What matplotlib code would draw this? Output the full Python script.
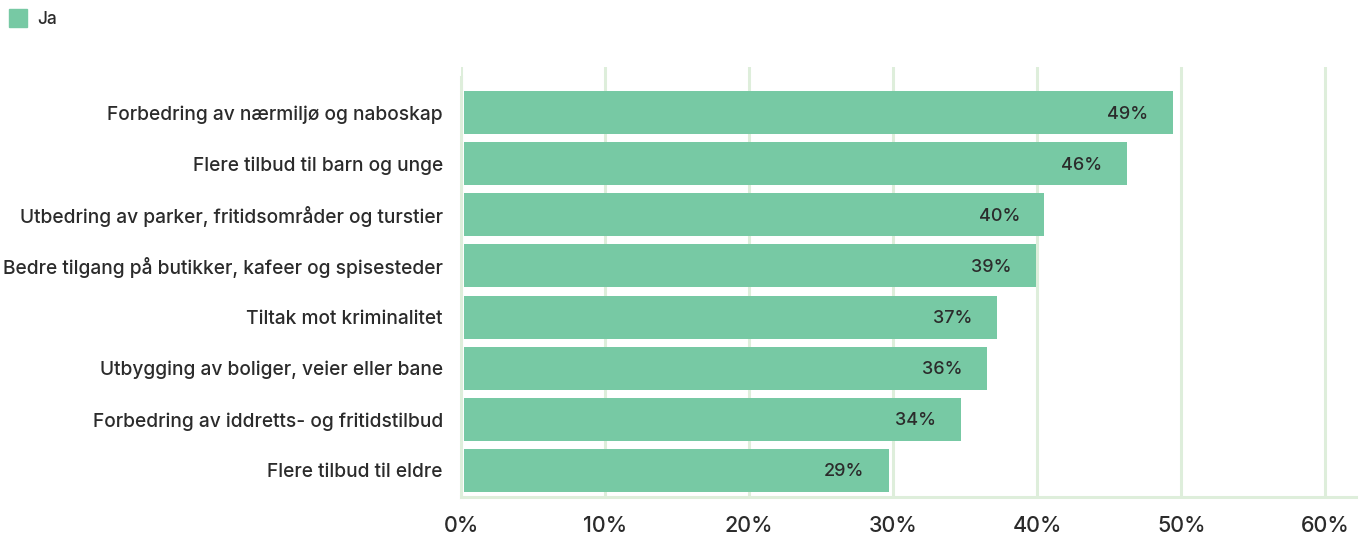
import numpy as np
import matplotlib
matplotlib.use("Agg")
from matplotlib import pyplot as plt
from matplotlib.patches import Rectangle

categories = [
    "Forbedring av nærmiljø og naboskap",
    "Flere tilbud til barn og unge",
    "Utbedring av parker, fritidsområder og turstier",
    "Bedre tilgang på butikker, kafeer og spisesteder",
    "Tiltak mot kriminalitet",
    "Utbygging av boliger, veier eller bane",
    "Forbedring av iddretts- og fritidstilbud",
    "Flere tilbud til eldre",
]
values = [49.2, 46.0, 40.3, 39.7, 37.0, 36.3, 34.5, 29.5]
value_labels = ["49%", "46%", "40%", "39%", "37%", "36%", "34%", "29%"]
xticks = [0, 10, 20, 30, 40, 50, 60]

bar_color = "#77c9a4"
grid_color = "#deeedb"
text_color = "#2b2b2b"

plt.rcParams["font.family"] = ["Inter", "DejaVu Sans"]
plt.rcParams["font.weight"] = 500

fig = plt.figure(figsize=(13.68, 5.37), dpi=100)
ax = fig.add_axes([0.337, 0.0745, 0.654, 0.8005])

y = np.arange(len(categories))
ax.barh(y, values, height=0.84, left=0.2, color=bar_color, zorder=3)

for yi, v, lab in zip(y, values, value_labels):
    ax.text(v - 1.5, yi + 0.03, lab, ha="right", va="center", fontsize=13,
            color=text_color, zorder=4, fontweight=500)

ax.set_xlim(0, 62.1)
ax.set_ylim(7.52, -0.89)
ax.set_yticks(y)
ax.set_yticklabels(categories, fontsize=13.8, color=text_color, fontweight=500)
ax.set_xticks(xticks)
ax.set_xticklabels([f"{t}%" for t in xticks], fontsize=15.5, color=text_color,
                   fontweight=500)
ax.tick_params(axis="both", length=0)
ax.tick_params(axis="y", pad=13)
ax.tick_params(axis="x", pad=14)

ax.grid(axis="x", color=grid_color, linewidth=2.2, zorder=0)
for s in ["top", "right"]:
    ax.spines[s].set_visible(False)
for s in ["left", "bottom"]:
    ax.spines[s].set_color(grid_color)
    ax.spines[s].set_linewidth(2.2)
ax.spines["left"].set_bounds(7.52, -0.7)

# legend
fig.patches.append(Rectangle((9 / 1368, 1 - 27 / 537), 18 / 1368, 18 / 537,
                             transform=fig.transFigure, color=bar_color))
fig.text(37 / 1368, 1 - 20 / 537, "Ja", fontsize=12.5, color=text_color,
         va="center", ha="left")

plt.savefig("out.png", dpi=100)
